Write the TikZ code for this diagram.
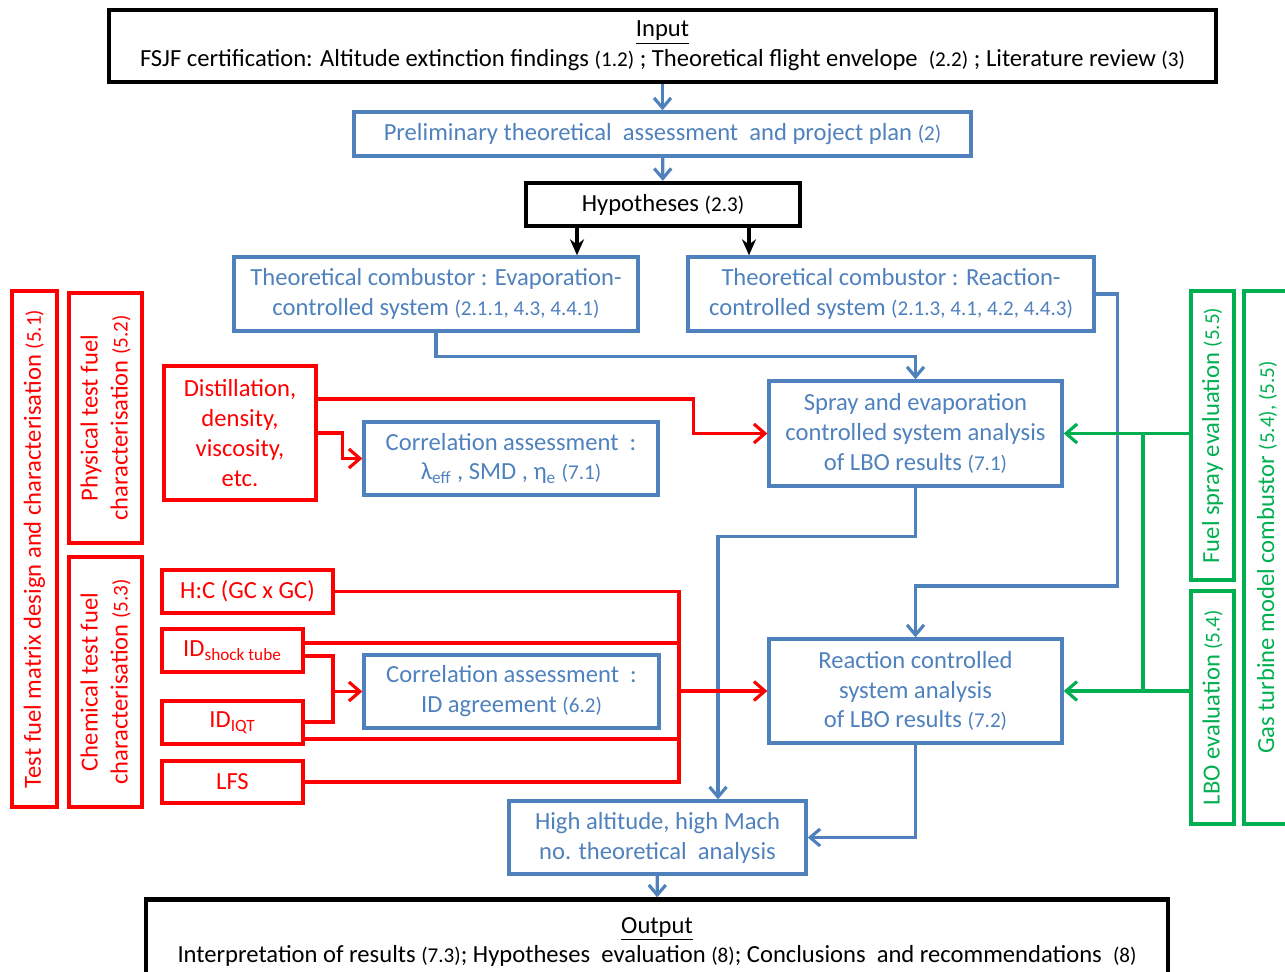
\documentclass[tikz,border=0pt]{standalone}
\usepackage{fontspec}
\setmainfont{Carlito}
\usetikzlibrary{positioning, arrows.meta}
\definecolor{lblue}{RGB}{79,129,189}
\definecolor{lred}{RGB}{255,0,0}
\definecolor{lgreen}{RGB}{0,176,80}
\newcommand{\smn}[1]{{\fontsize{12}{17}\selectfont #1}}

\begin{document}
\begin{tikzpicture}[
		font=\fontsize{14}{17}\selectfont,
		kbox/.style={draw=black, line width=2.4pt, align=center, inner sep=1pt},
		bbox/.style={draw=lblue, text=lblue, line width=1.9pt, align=center, inner sep=1pt},
		rbox/.style={draw=lred, text=lred, line width=1.9pt, align=center, inner sep=1pt},
		rvbox/.style={rbox, rotate=90},
		gvbox/.style={draw=lgreen, text=lgreen, line width=1.9pt, align=center, inner sep=1pt, rotate=90},
		barrow/.style={draw=lblue, line width=1.8pt, -{Straight Barb[length=2mm, width=3.4mm]}},
		karrow/.style={draw=black, line width=1.8pt, -{Stealth[length=3.2mm, width=2.8mm]}},
		rline/.style={draw=lred, line width=1.8pt},
		rarrow/.style={rline, -{Straight Barb[length=2.2mm, width=3.8mm]}},
		gline/.style={draw=lgreen, line width=1.8pt},
		garrow/.style={gline, -{Straight Barb[length=2.2mm, width=3.8mm]}},
	]

	\useasboundingbox (0, 0) rectangle (25.7, -19.44);
	\clip (0, 0) rectangle (25.7, -19.44);

	% main column
	\node[kbox, minimum width=22.14cm, minimum height=1.44cm] (input) at (13.25, -0.92) {\underline{Input}\\ FSJF certification: Altitude extinction findings \smn{(1.2)} ; Theoretical flight envelope \ \smn{(2.2)} ; Literature review \smn{(3)}};
	\node[bbox, minimum width=12.34cm, minimum height=0.88cm] (prelim) at (13.25, -2.68) {Preliminary theoretical \ assessment \ and project plan \smn{(2)}};
	\node[kbox, minimum width=5.48cm, minimum height=0.86cm] (hyp) at (13.26, -4.09) {Hypotheses \smn{(2.3)}};

	\node[bbox, minimum width=8.08cm, minimum height=1.48cm] (evap) at (8.72, -5.88) {Theoretical combustor : Evaporation-\\ controlled system \smn{(2.1.1, 4.3, 4.4.1)}};
	\node[bbox, minimum width=8.12cm, minimum height=1.48cm] (react) at (17.82, -5.88) {Theoretical combustor : Reaction-\\ controlled system \smn{(2.1.3, 4.1, 4.2, 4.4.3)}};

	\node[bbox, minimum width=5.86cm, minimum height=2.10cm] (spray) at (18.31, -8.67) {Spray and evaporation\\ controlled system analysis\\ of LBO results \smn{(7.1)}};
	\node[bbox, minimum width=5.86cm, minimum height=2.08cm] (reaction) at (18.31, -13.82) {Reaction controlled\\ system analysis\\ of LBO results \smn{(7.2)}};
	\node[bbox, minimum width=5.94cm, minimum height=1.46cm] (high) at (13.15, -16.75) {High altitude, high Mach\\ no. theoretical \ analysis};
	\node[kbox, minimum width=20.44cm, minimum height=1.70cm] (output) at (13.14, -18.84) {\underline{Output}\\ Interpretation of results \smn{(7.3)}; Hypotheses \ evaluation \smn{(8)}; Conclusions \ and recommendations \ \smn{(8)}};

	% fuel tests
	\node[rbox, minimum width=3.04cm, minimum height=2.68cm] (dist) at (4.80, -8.66) {Distillation,\\ density,\\ viscosity,\\ etc.};
	\node[bbox, minimum width=5.88cm, minimum height=1.46cm] (corr1) at (10.22, -9.17) {Correlation assessment \ :\\ λ\textsubscript{eff} , SMD , η\textsubscript{e} \smn{(7.1)}};

	\node[rbox, minimum width=3.42cm, minimum height=0.86cm] (hc) at (4.95, -11.83) {H:C (GC x GC)};
	\node[rbox, minimum width=2.82cm, minimum height=0.86cm] (idst) at (4.65, -13.01) {ID\textsubscript{shock tube}};
	\node[rbox, minimum width=2.82cm, minimum height=0.86cm] (idiqt) at (4.65, -14.45) {ID\textsubscript{IQT}};
	\node[rbox, minimum width=2.82cm, minimum height=0.84cm] (lfs) at (4.65, -15.64) {LFS};
	\node[bbox, minimum width=5.90cm, minimum height=1.46cm] (corr2) at (10.23, -13.83) {Correlation assessment \ :\\ ID agreement \smn{(6.2)}};

	\node[rvbox, minimum width=10.32cm, minimum height=0.90cm] (testfuel) at (0.69, -10.98) {Test fuel matrix design and characterisation \smn{(5.1)}};
	\node[rvbox, minimum width=5.00cm, minimum height=1.46cm] (phys) at (2.11, -8.36) {Physical test fuel\\ characterisation \smn{(5.2)}};
	\node[rvbox, minimum width=5.00cm, minimum height=1.46cm] (chem) at (2.11, -13.64) {Chemical test fuel\\ characterisation \smn{(5.3)}};

	% evaluations
	\node[gvbox, minimum width=5.78cm, minimum height=0.86cm] (fspray) at (24.25, -8.71) {Fuel spray evaluation \smn{(5.5)}};
	\node[gvbox, minimum width=4.66cm, minimum height=0.86cm] (lbo) at (24.25, -14.15) {LBO evaluation \smn{(5.4)}};
	\node[gvbox, minimum width=10.66cm, minimum height=0.92cm] (gasturb) at (25.34, -11.15) {Gas turbine model combustor \smn{(5.4), (5.5)}};

	\coordinate (rbus) at (13.58, -11.83);
	\coordinate (rbrk) at (6.66, -13.83);
	\coordinate (gbus) at (22.86, -8.67);

	% connectors
	\draw[barrow] (input) -- (prelim);
	\draw[barrow] (prelim) -- (hyp);
	\draw[karrow] ([xshift=-1.72cm]hyp.south) -- ([xshift=-1.72cm]hyp.south |- evap.north);
	\draw[karrow] ([xshift=1.72cm]hyp.south) -- ([xshift=1.72cm]hyp.south |- react.north);

	\draw[barrow] (evap.south) -- ++(0, -0.48) -| (spray.north);
	\draw[barrow] (react.east) -- ++(0.44, 0) -- ++(0, -5.84) -| (reaction.north);
	\draw[barrow] (spray.south) -- ++(0, -0.98) -| ([xshift=1.21cm]high.north);
	\draw[barrow] (reaction.south) |- (high.east);
	\draw[barrow] (high) -- (output);

	\draw[rarrow] ([yshift=0.68cm]dist.east) -- ++(7.52, 0) |- (spray.west);
	\draw[rarrow] (dist.east) -- ++(0.5, 0) |- (corr1.west);

	\draw[rline] (hc.east) -- (rbus) -- (lfs.east -| rbus) -- (lfs.east);
	\draw[rline] ([yshift=0.15cm]idst.east) -- ([yshift=0.15cm]idst.east -| rbus);
	\draw[rline] ([yshift=-0.33cm]idiqt.east) -- ([yshift=-0.33cm]idiqt.east -| rbus);
	\draw[rline] ([yshift=-0.11cm]idst.east) -| ([yshift=0.01cm]idiqt.east -| rbrk) -- ([yshift=0.01cm]idiqt.east);
	\draw[rarrow] (rbrk) -- (corr2.west);
	\draw[rarrow] (reaction.west -| rbus) -- (reaction.west);

	\draw[garrow] (spray.east -| fspray.north) -- (spray.east);
	\draw[garrow] (reaction.east -| lbo.north) -- (reaction.east);
	\draw[gline] (gbus) -- (reaction.east -| gbus);
\end{tikzpicture}
\end{document}
